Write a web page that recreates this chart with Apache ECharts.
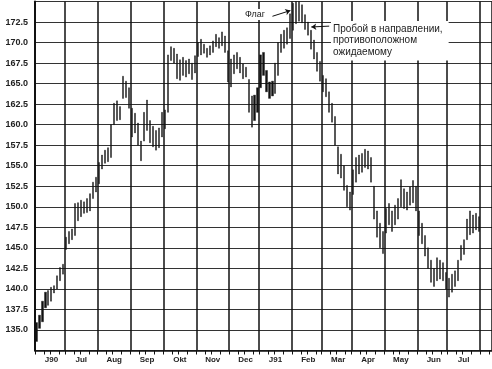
<!DOCTYPE html>
<html><head><meta charset="utf-8">
<script src="https://cdn.jsdelivr.net/npm/echarts@6/dist/echarts.min.js"></script>
<style>html,body{margin:0;padding:0;background:#fff}#c{width:492px;height:369px}</style>
</head><body><div id="c"></div>
<script>
// Month labels (x axis) and number of bar slots per month
const monthLabels = ['J90','Jul','Aug','Sep','Okt','Nov','Dec','J91','Feb','Mar','Apr','May','Jun','Jul',''];
const monthSlots  = [10, 11, 11, 11, 11, 11, 10, 11, 10, 10, 11, 11, 10, 11, 4];

// Y axis
const yMin = 132.5, yMax = 175, yStep = 2.5;

// Price ranges (low / high) per bar, Jun 1990 - Jul 1991
const lows = [
  133.6,135.2,136.0,137.7,138.0,138.5,139.5,140.0,141.0,141.8,
  144.8,145.5,146.0,146.5,148.3,148.8,149.2,149.3,149.5,151.0,151.8,
  152.8,154.6,155.3,155.5,156.0,160.0,160.5,160.6,163.2,163.3,162.0,
  158.5,159.0,157.5,155.6,158.0,159.3,157.8,157.3,156.9,157.2,158.5,
  159.5,161.5,167.8,167.5,165.6,165.4,166.0,165.8,166.2,165.5,166.3,
  168.3,168.5,168.7,168.2,168.5,168.8,169.5,169.3,169.6,168.8,165.2,
  164.6,166.2,166.8,166.3,165.6,165.8,161.5,159.7,160.5,161.5,
  164.5,166.0,164.0,163.2,163.5,163.8,166.0,168.8,169.3,169.8,170.5,
  171.5,172.3,172.6,172.4,171.6,170.9,169.2,168.0,166.5,165.3,
  164.0,163.4,161.5,160.3,157.5,154.0,153.5,152.0,150.0,149.6,
  151.5,153.0,154.0,154.2,154.8,154.6,153.0,148.5,146.3,145.0,144.3,
  146.8,147.8,147.0,147.8,148.5,150.0,149.8,149.6,150.2,150.5,149.5,
  146.5,145.5,144.0,142.5,140.8,140.3,141.0,141.2,141.0,140.0,
  139.0,139.6,140.3,141.0,143.5,144.2,146.0,146.6,146.8,147.2,147.0
];
const highs = [
  135.9,136.8,138.5,139.6,139.8,140.2,140.4,141.6,142.6,143.0,
  146.3,147.0,147.3,150.4,150.5,150.8,150.6,151.0,151.6,153.0,153.6,
  155.4,156.3,156.9,157.2,160.0,162.6,162.9,162.2,165.9,165.3,164.5,
  162.0,161.4,160.2,158.0,161.5,163.0,160.5,159.8,159.3,159.6,161.5,
  161.8,168.5,169.5,169.3,168.6,167.9,168.2,167.8,168.0,167.5,168.4,
  170.0,170.4,169.8,169.3,169.6,170.2,171.0,170.6,171.3,170.8,169.0,
  168.0,168.5,168.8,168.2,167.4,167.0,165.5,163.5,163.6,164.5,
  168.5,168.8,166.6,165.2,165.3,167.5,170.0,171.0,171.5,171.8,173.5,
  174.8,175.0,175.0,174.6,173.4,172.5,171.5,170.3,168.8,167.7,
  166.0,165.6,164.0,162.6,161.0,157.3,156.4,155.0,152.6,151.8,
  154.5,156.0,156.3,156.5,157.0,156.8,156.0,152.5,149.5,148.0,147.0,
  149.8,150.4,149.5,150.2,151.0,153.3,152.2,151.8,152.4,153.2,152.5,
  149.5,148.0,146.5,145.0,143.5,142.5,143.8,143.5,143.2,142.0,
  141.3,141.8,142.2,143.5,145.3,146.0,148.5,149.5,149.0,149.2,148.8
];

// Annotation texts
const flagText = 'Флаг';
const breakText = 'Пробой в направлении,\nпротивоположном\nожидаемому';

// ---- build categories ----
const categories = [];
const startSet = new Set(), midSet = new Set(), tickSet = new Set();
monthLabels.forEach((m, mi) => {
  const n = monthSlots[mi];
  for (let k = 0; k < n; k++) {
    const idx = categories.length;
    if (k === 0) { startSet.add(idx); tickSet.add(idx); }
    if (k === Math.floor(n / 2) && m) midSet.add(idx);
    if (k === 3 || k === 5 || k === 8) tickSet.add(idx);
    categories.push(m + '|' + mi + '|' + k);
  }
});

const candle = lows.map((l, i) => [l, highs[i], l, highs[i]]);

const chart = echarts.init(document.getElementById('c'), null, {renderer: 'canvas'});
chart.setOption({
  animation: false,
  backgroundColor: '#fff',
  grid: {left: 35, right: 0, top: 1.5, bottom: 18.5, containLabel: false},
  xAxis: {
    type: 'category',
    data: categories,
    boundaryGap: true,
    axisLine: {show: true, lineStyle: {color: '#111', width: 1.5}},
    axisTick: {show: true, length: 4, interval: (i) => tickSet.has(i), lineStyle: {color: '#111', width: 1}},
    splitLine: {show: true, interval: (i) => startSet.has(i), lineStyle: {color: '#111', width: 1.5}},
    axisLabel: {
      interval: (i) => midSet.has(i),
      formatter: (v) => v.split('|')[0],
      margin: 5,
      fontFamily: 'Liberation Sans',
      fontSize: 8,
      fontWeight: 'bold',
      color: '#222'
    }
  },
  yAxis: {
    type: 'value',
    min: yMin, max: yMax, interval: yStep,
    axisLine: {show: true, lineStyle: {color: '#111', width: 2}},
    axisTick: {show: false},
    splitLine: {show: true, lineStyle: {color: '#333', width: 1.2}},
    axisLabel: {
      showMinLabel: false, showMaxLabel: false,
      formatter: (v) => v.toFixed(1),
      margin: 7,
      fontFamily: 'Liberation Sans',
      fontSize: 9,
      fontWeight: 'bold',
      color: '#222'
    }
  },
  series: [{
    type: 'candlestick',
    data: candle,
    barWidth: 1.6,
    itemStyle: {color: '#111', color0: '#111', borderColor: '#111', borderColor0: '#111', borderWidth: 0.4},
    markLine: {
      silent: true,
      symbol: ['none', 'arrow'],
      symbolSize: 5,
      label: {show: false},
      lineStyle: {color: '#111', width: 1, type: 'solid'},
      data: [
        [{coord: [categories[79], 173.2]}, {coord: [categories[85], 173.9]}],
        [{coord: [categories[98], 172.0]}, {coord: [categories[92], 171.9]}]
      ]
    }
  }],
  graphic: [
    {type: 'text', left: 243, top: 9, z: 100,
     style: {text: flagText, font: '9px "Liberation Sans"', fill: '#222', backgroundColor: '#fff', padding: [1, 2]}},
    {type: 'text', left: 331, top: 21, z: 100,
     style: {text: breakText, font: '10px "Liberation Sans"', lineHeight: 11.5, fill: '#222', backgroundColor: '#fff', padding: [2, 6, 3, 2]}}
  ]
});
</script>
</body></html>
